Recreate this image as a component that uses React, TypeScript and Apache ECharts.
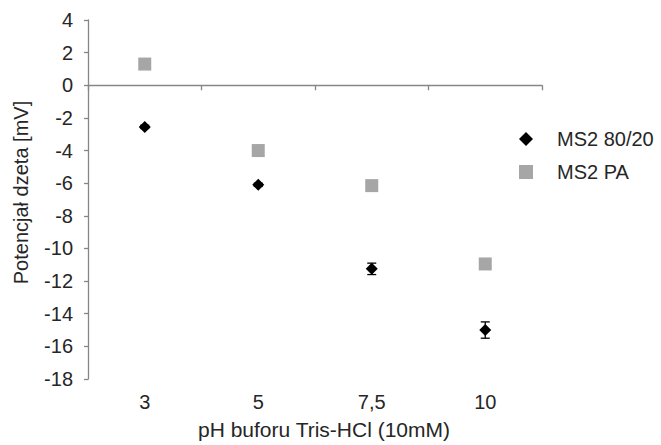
import React, { useEffect, useRef } from "react";
import * as echarts from "echarts";

const categories = ["3", "5", "7,5", "10"];
const seriesNames = ["MS2 80/20", "MS2 PA"];
const ms2_8020 = [-2.55, -6.1, -11.25, -15.0];
const ms2_8020_err = [0.1, 0.1, 0.35, 0.5];
const ms2_pa = [1.3, -4.0, -6.15, -10.95];
const ms2_pa_err = [0.1, 0.1, 0.2, 0.3];
const yTicks = { min: -18, max: 4, interval: 2 };
const xTitle = "pH buforu Tris-HCl (10mM)";
const yTitle = "Potencjał dzeta [mV]";

const FONT = "'Liberation Sans', Arial, sans-serif";
const TXT = "#262626";
const AX = "#868686";

function errorSeries(values: number[], errs: number[], color: string) {
  const data = values.map((v, i) => [i, v - errs[i], v + errs[i]]);
  return {
    type: "custom",
    xAxisIndex: 0,
    yAxisIndex: 0,
    silent: true,
    z: 1,
    data,
    renderItem: (params: any, api: any) => {
      const x = api.value(0);
      const lo = api.coord([x, api.value(1)]);
      const hi = api.coord([x, api.value(2)]);
      const w = 4.5;
      const st = { stroke: color, lineWidth: 1.3 };
      return {
        type: "group",
        children: [
          { type: "line", shape: { x1: lo[0], y1: lo[1], x2: hi[0], y2: hi[1] }, style: st },
          { type: "line", shape: { x1: lo[0] - w, y1: lo[1], x2: lo[0] + w, y2: lo[1] }, style: st },
          { type: "line", shape: { x1: hi[0] - w, y1: hi[1], x2: hi[0] + w, y2: hi[1] }, style: st },
        ],
      };
    },
  };
}

export default function App() {
  const ref = useRef<HTMLDivElement>(null);
  useEffect(() => {
    if (!ref.current) return;
    const chart = echarts.init(ref.current, undefined, { renderer: "svg" });
    chart.setOption({
      animation: false,
      textStyle: { fontFamily: FONT },
      grid: { left: 88, right: 119, top: 20, bottom: 65, containLabel: false },
      legend: {
        orient: "vertical",
        left: 514,
        top: 124,
        itemWidth: 14,
        itemHeight: 14,
        itemGap: 13,
        data: seriesNames,
        textStyle: { fontSize: 20, color: TXT, fontFamily: FONT, padding: [0, 0, 0, 19] },
      },
      xAxis: [
        {
          type: "category",
          data: categories,
          boundaryGap: true,
          position: "bottom",
          axisLine: { onZero: true, lineStyle: { color: AX, width: 1.3 } },
          axisTick: { show: true, length: 5, alignWithLabel: false, lineStyle: { color: AX, width: 1.3 } },
          axisLabel: { show: false },
          splitLine: { show: false },
        },
        {
          type: "category",
          data: categories,
          boundaryGap: true,
          position: "bottom",
          axisLine: { show: false, onZero: false },
          axisTick: { show: false },
          axisLabel: { show: true, fontSize: 20, color: TXT, margin: 13, fontFamily: FONT },
          splitLine: { show: false },
          name: xTitle,
          nameLocation: "middle",
          nameGap: 40,
          nameTextStyle: { fontSize: 21, color: TXT, fontFamily: FONT, padding: [0, 0, 0, 18] },
        },
      ],
      yAxis: {
        type: "value",
        min: yTicks.min,
        max: yTicks.max,
        interval: yTicks.interval,
        axisLine: { show: true, lineStyle: { color: AX, width: 1.3 } },
        axisTick: { show: true, length: 4, lineStyle: { color: AX, width: 1.3 } },
        axisLabel: { fontSize: 20, color: TXT, margin: 15, fontFamily: FONT },
        splitLine: { show: false },
        name: yTitle,
        nameLocation: "middle",
        nameGap: 57,
        nameTextStyle: { fontSize: 20, color: TXT, fontFamily: FONT, padding: [0, 0, 0, 14] },
      },
      series: [
        errorSeries(ms2_8020, ms2_8020_err, "#000000"),
        errorSeries(ms2_pa, ms2_pa_err, "#a6a6a6"),
        {
          name: seriesNames[0],
          type: "scatter",
          xAxisIndex: 0,
          symbol: "diamond",
          symbolSize: 12,
          itemStyle: { color: "#000000", opacity: 1 },
          data: ms2_8020,
          z: 3,
        },
        {
          name: seriesNames[1],
          type: "scatter",
          xAxisIndex: 0,
          symbol: "rect",
          symbolSize: 13,
          itemStyle: { color: "#a6a6a6", opacity: 1 },
          data: ms2_pa,
          z: 2,
        },
      ],
    });
    return () => chart.dispose();
  }, []);
  return <div ref={ref} style={{ width: 661, height: 445, position: "absolute", left: 0, top: 0 }} />;
}
